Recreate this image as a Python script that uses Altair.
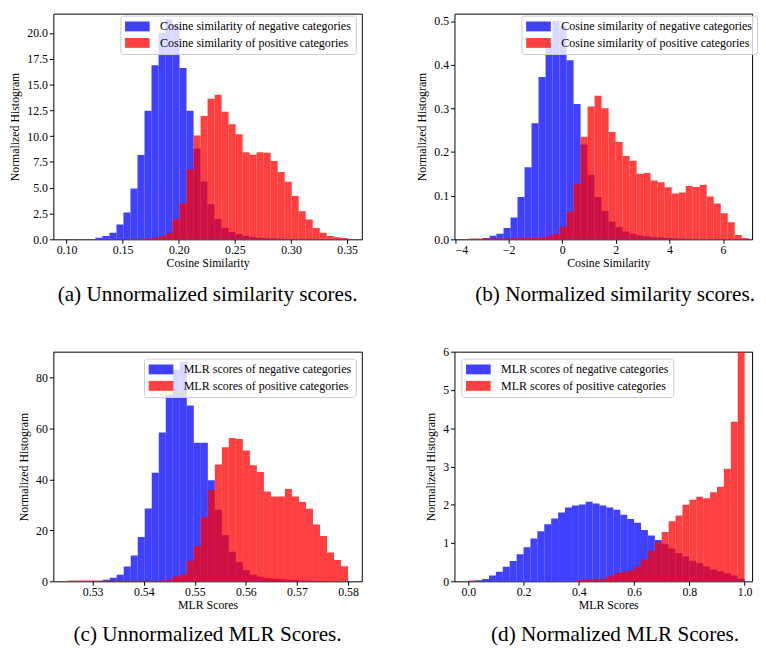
import altair as alt
import pandas as pd

FONT = "Liberation Serif"

# ---------------- (a) Unnormalized similarity scores ----------------
a_start, a_width = 0.1008, 0.006245
a_neg = [0, 0, 0, 0.03, 0.16, 0.32, 0.64, 1.43, 2.61, 4.93,
         8.18, 12.47, 16.86, 20.0, 21.3, 20.8, 16.6, 12.47, 8.8, 5.6,
         3.41, 1.98, 1.12, 0.7, 0.48, 0.32, 0.22, 0.15, 0.1, 0.07,
         0.05, 0.03, 0.02, 0, 0, 0, 0, 0, 0, 0]
a_pos = [0.03, 0.03, 0.03, 0.03, 0.03, 0.03, 0.03, 0.04, 0.04, 0.05,
         0.05, 0.08, 0.15, 0.3, 0.64, 1.98, 3.5, 6.76, 10.05, 11.94,
         13.63, 14.01, 12.36, 11.15, 10.19, 8.44, 8.19, 8.44, 8.38, 7.58,
         6.53, 5.58, 4.21, 2.71, 1.91, 1.09, 0.64, 0.32, 0.19, 0.13]

# ---------------- (b) Normalized similarity scores ----------------
b_start, b_width = -3.497, 0.2614
b_neg = [0, 0.001, 0.003, 0.008, 0.013, 0.026, 0.05, 0.097, 0.165, 0.266,
         0.372, 0.45, 0.50, 0.49, 0.41, 0.31, 0.217, 0.148, 0.097, 0.065,
         0.04, 0.028, 0.018, 0.013, 0.009, 0.007, 0.005, 0.004, 0.003, 0.002,
         0.002, 0.001, 0, 0, 0, 0, 0, 0, 0, 0]
b_pos = [0.002, 0.002, 0.002, 0.002, 0.002, 0.002, 0.002, 0.003, 0.003, 0.003,
         0.004, 0.007, 0.012, 0.029, 0.064, 0.127, 0.235, 0.304, 0.329, 0.30,
         0.246, 0.223, 0.191, 0.18, 0.15, 0.152, 0.135, 0.131, 0.119, 0.105,
         0.107, 0.122, 0.12, 0.125, 0.098, 0.082, 0.06, 0.039, 0.01, 0.003]

# ---------------- (c) Unnormalized MLR scores ----------------
c_start, c_width = 0.5251, 0.0013725
c_neg = [0, 0, 0, 0, 0.1, 0.6, 1.4, 2.6, 5.8, 10.1,
         17.4, 28.6, 42.6, 58.4, 73.3, 83.0, 86.0, 69.0, 54.4, 54.4,
         39.7, 28.1, 18.05, 11.6, 7.5, 4.3, 2.6, 1.8, 1.3, 1.0,
         0.8, 0.6, 0.5, 0.3, 0.2, 0.1, 0, 0, 0, 0]
c_pos = [0.3, 0.3, 0.3, 0.3, 0.3, 0.2, 0.2, 0.2, 0.2, 0.2,
         0.2, 0.2, 0.25, 0.35, 0.65, 1.9, 2.7, 8.1, 13.9, 25.1,
         35.8, 45.8, 52.6, 56.2, 55.8, 51.3, 45.5, 42.9, 35.2, 33.3,
         33.3, 36.2, 33.3, 31.1, 28.5, 22.3, 17.8, 11.3, 8.4, 5.9]

# ---------------- (d) Normalized MLR scores ----------------
d_start, d_width = 0.0, 0.025
d_neg = [0.01, 0.03, 0.06, 0.15, 0.25, 0.38, 0.53, 0.71, 0.89, 1.12,
         1.31, 1.49, 1.64, 1.80, 1.93, 1.98, 2.01, 2.08, 2.03, 1.98,
         1.93, 1.87, 1.74, 1.63, 1.53, 1.34, 1.20, 1.08, 0.97, 0.86,
         0.74, 0.65, 0.54, 0.47, 0.39, 0.31, 0.26, 0.21, 0.15, 0.07]
d_pos = [0.02, 0, 0, 0, 0, 0, 0, 0, 0, 0,
         0, 0, 0, 0, 0, 0, 0.04, 0.05, 0.06, 0.07,
         0.13, 0.21, 0.24, 0.28, 0.39, 0.57, 0.80, 1.03, 1.29, 1.57,
         1.72, 2.0, 2.13, 2.21, 2.17, 2.33, 2.47, 2.94, 4.17, 6.0]

cos_labels = ["Cosine similarity of negative categories",
              "Cosine similarity of positive categories"]
mlr_labels = ["MLR scores of negative categories",
              "MLR scores of positive categories"]

a_xticks = [0.10, 0.15, 0.20, 0.25, 0.30, 0.35]
a_yticks = [0, 2.5, 5, 7.5, 10, 12.5, 15, 17.5, 20]
b_xticks = [-4, -2, 0, 2, 4, 6]
b_yticks = [0, 0.1, 0.2, 0.3, 0.4, 0.5]
c_xticks = [0.53, 0.54, 0.55, 0.56, 0.57, 0.58]
c_yticks = [0, 20, 40, 60, 80]
d_xticks = [0.0, 0.2, 0.4, 0.6, 0.8, 1.0]
d_yticks = [0, 1, 2, 3, 4, 5, 6]

BLUE, RED = "#0000ff", "#ff0000"


def panel(start, width, neg, pos, labels, xdom, ydom, xticks, xfmt, yticks, yfmt,
          xtitle, caption, pw, ph, legx, legy, cap_dx, cap_offset, xtitle_x=None):
    rows = []
    for lab, vals in ((labels[0], neg), (labels[1], pos)):
        for i, v in enumerate(vals):
            rows.append({"s": lab, "x0": start + i * width,
                         "x1": start + (i + 1) * width, "v": v})
    df = pd.DataFrame(rows)
    xaxis_kw = dict(values=xticks, format=xfmt, title=xtitle, grid=False,
                    labelPadding=1.5, titlePadding=2.5)
    if xtitle_x is not None:
        xaxis_kw["titleX"] = xtitle_x
    return alt.Chart(df).mark_rect(opacity=0.75, clip=True).encode(
        x=alt.X("x0:Q", scale=alt.Scale(domain=xdom, nice=False, zero=False),
                axis=alt.Axis(**xaxis_kw)),
        x2="x1:Q",
        y=alt.Y("v:Q", scale=alt.Scale(domain=ydom, nice=False),
                axis=alt.Axis(values=yticks, format=yfmt,
                              title="Normalized Histogram", grid=False,
                              titlePadding=5)),
        y2=alt.datum(0),
        color=alt.Color("s:N", scale=alt.Scale(domain=labels, range=[BLUE, RED]),
                        legend=alt.Legend(
                            title=None, orient="none", legendX=legx, legendY=legy,
                            direction="vertical",
                            symbolType="M-2,-0.8H2V0.8H-2Z", symbolSize=156.25,
                            symbolOffset=6.25, labelOffset=16.5,
                            symbolStrokeWidth=0, symbolOpacity=0.75,
                            labelFont=FONT, labelFontSize=12.2, labelColor="black",
                            labelLimit=400, padding=4.5, rowPadding=3.7,
                            fillColor="rgba(255,255,255,0.8)",
                            strokeColor="#cccccc", cornerRadius=3)),
    ).properties(
        width=pw, height=ph,
        title=alt.TitleParams(text=caption, orient="bottom", anchor="middle",
                              frame="group", font=FONT, fontSize=21.5,
                              fontWeight="normal", color="black",
                              offset=cap_offset, dx=cap_dx),
    )


pa = panel(a_start, a_width, a_neg, a_pos, cos_labels, [0.0883, 0.3631], [0, 21.87],
           a_xticks, ".2f", a_yticks, ".1f", "Cosine Similarity",
           "(a) Unnormalized similarity scores.", 313, 229, 68, 2, 0, 15.5)
pb = panel(b_start, b_width, b_neg, b_pos, cos_labels, [-4.02, 7.083], [0, 0.517],
           b_xticks, "d", b_yticks, ".1f", "Cosine Similarity",
           "(b) Normalized similarity scores.", 302, 229, 68, 2, 12, 15.5, 156)
pc = panel(c_start, c_width, c_neg, c_pos, mlr_labels, [0.5223, 0.5827], [0, 90.1],
           c_xticks, ".2f", c_yticks, "d", "MLR Scores",
           "(c) Unnormalized MLR Scores.", 313, 233, 92, 7, 0, 13.5)
pd_ = panel(d_start, d_width, d_neg, d_pos, mlr_labels, [-0.05, 1.027], [0, 6],
            d_xticks, ".1f", d_yticks, "d", "MLR Scores",
            "(d) Normalized MLR Scores.", 302, 233, 7, 7, 12, 13.5, 156)

chart = alt.concat(
    pa, pb, pc, pd_, columns=2, spacing={"row": 114, "column": 94}, bounds="flush"
).resolve_scale(
    color="independent"
).properties(
    padding={"left": 0, "top": 0, "right": 0, "bottom": 0}
).configure_view(
    stroke="black", strokeWidth=1
).configure_axis(
    labelFont=FONT, labelFontSize=12, labelColor="black",
    titleFont=FONT, titleFontSize=12, titleFontWeight="normal", titleColor="black",
    tickColor="black", tickSize=4, tickWidth=1, labelPadding=2,
    domain=False,
)

chart.save("out.html", embed_options={"renderer": "svg", "actions": False})
